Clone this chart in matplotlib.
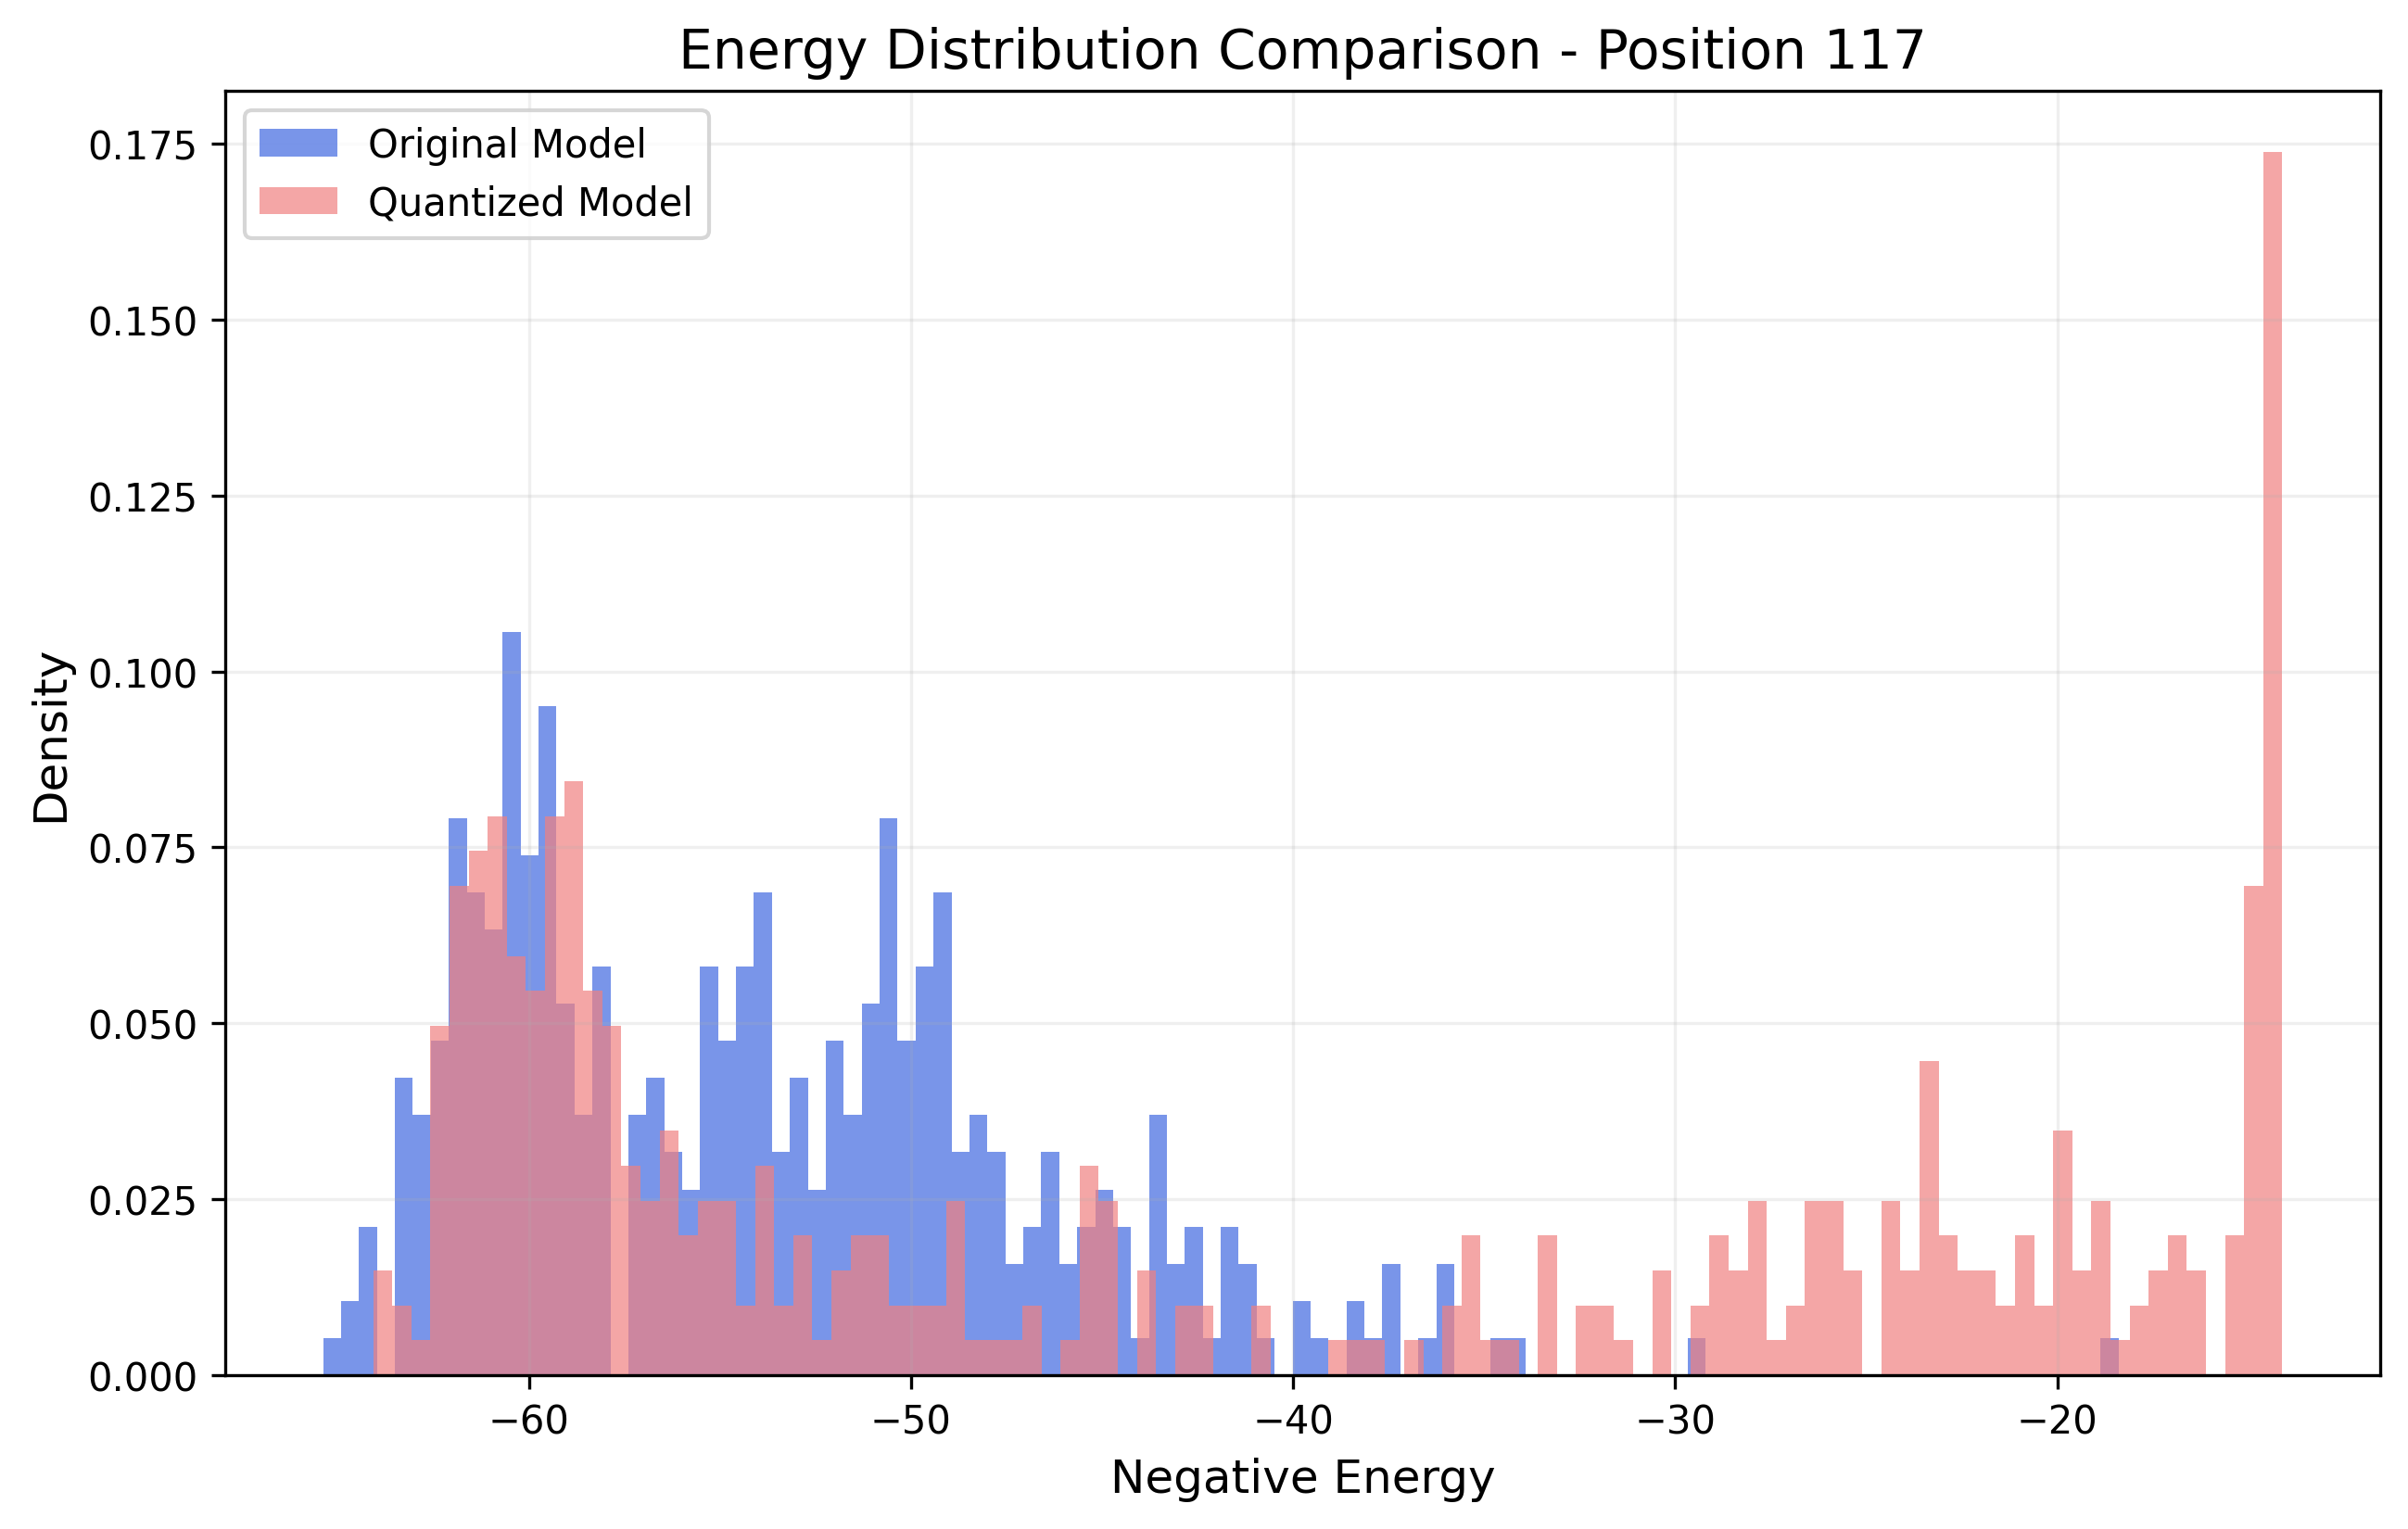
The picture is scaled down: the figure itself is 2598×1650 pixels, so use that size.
import numpy as np
import matplotlib
matplotlib.use("Agg")
import matplotlib.pyplot as plt

# bin counts (100 bins each)
orig_range = (-65.39, -18.40)
orig_counts = [1, 2, 4, 0, 8, 7, 9, 15, 13, 12,
               20, 14, 18, 10, 7, 11, 0, 7, 8, 6,
               5, 11, 9, 11, 13, 6, 8, 5, 9, 7,
               10, 15, 9, 11, 13, 6, 7, 6, 3, 4,
               6, 3, 4, 5, 4, 1, 7, 3, 4, 1,
               4, 3, 1, 0, 2, 1, 0, 2, 1, 3,
               0, 1, 3, 0, 0, 1, 1, 0, 0, 0,
               0, 0, 0, 0, 0, 0, 1, 0, 0, 0,
               0, 0, 0, 0, 0, 0, 0, 0, 0, 0,
               0, 0, 0, 0, 0, 0, 0, 0, 0, 1]

quant_range = (-64.08, -14.11)
quant_counts = [3, 2, 1, 10, 14, 15, 16, 12, 11, 16,
                17, 11, 10, 6, 5, 7, 4, 5, 5, 2,
                6, 2, 4, 1, 3, 4, 4, 2, 2, 2,
                5, 1, 1, 1, 2, 0, 1, 6, 5, 0,
                3, 0, 2, 2, 0, 0, 2, 0, 0, 0,
                1, 1, 1, 0, 1, 0, 2, 4, 1, 1,
                0, 4, 0, 2, 2, 1, 0, 3, 0, 2,
                4, 3, 5, 1, 2, 5, 5, 3, 0, 5,
                3, 9, 4, 3, 3, 2, 4, 2, 7, 3,
                5, 1, 2, 3, 4, 3, 0, 4, 14, 35]

labels = ["Original Model", "Quantized Model"]


def draw_hist(ax, rng, counts, color, label):
    edges = np.linspace(rng[0], rng[1], len(counts) + 1)
    centers = (edges[:-1] + edges[1:]) / 2
    ax.hist(centers, bins=edges, weights=counts, density=True,
            alpha=0.7, color=color, label=label)


fig = plt.figure(figsize=(8.66, 5.503), dpi=300)
ax = fig.add_subplot(111)
fig.subplots_adjust(left=0.0935, right=0.9885, bottom=0.1005, top=0.940)

draw_hist(ax, orig_range, orig_counts, "royalblue", labels[0])
draw_hist(ax, quant_range, quant_counts, "lightcoral", labels[1])

ax.set_title("Energy Distribution Comparison - Position 117", fontsize=14)
ax.set_xlabel("Negative Energy", fontsize=12)
ax.set_ylabel("Density", fontsize=12)
ax.legend(loc="upper left")
ax.grid(True, alpha=0.2)

fig.savefig("out.png", dpi=300)
